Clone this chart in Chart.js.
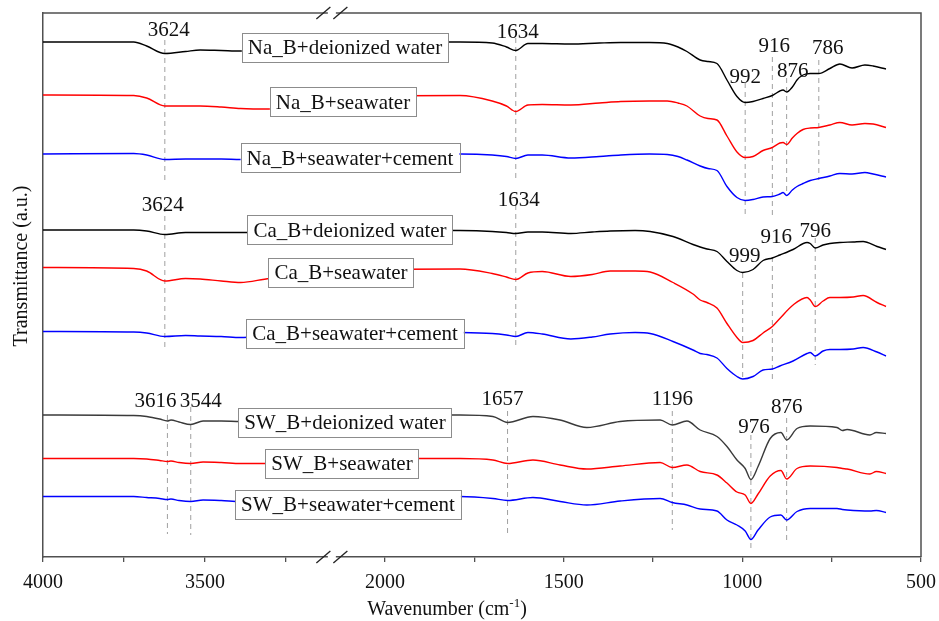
<!DOCTYPE html>
<html>
<head>
<meta charset="utf-8">
<script src="https://cdn.jsdelivr.net/npm/chart.js@4.4.0/dist/chart.umd.min.js"></script>
<style>
  html, body { margin: 0; padding: 0; background: #fff; }
</style>
</head>
<body>
<canvas id="ftirChart" width="939" height="621"></canvas>
<script>
// wavenumber grids (cm-1), one per sample group
const naWavenumbers = [4000, 3720, 3680, 3624, 3560, 3515, 3450, 3390, 3300, 3100, 2100, 1790, 1700, 1660, 1634, 1600, 1560, 1480, 1400, 1340, 1260, 1210, 1180, 1155, 1118, 1096, 1071, 1043, 1015, 992, 970, 942, 916, 895, 886, 876, 860, 847, 830, 810, 786, 755, 727, 693, 657, 634, 598];
const caWavenumbers = [4000, 3720, 3680, 3624, 3560, 3515, 3450, 3390, 3300, 3100, 2100, 1790, 1700, 1660, 1634, 1600, 1560, 1480, 1420, 1370, 1300, 1258, 1194, 1138, 1118, 1099, 1071, 1043, 1015, 999, 970, 942, 916, 895, 858, 819, 810, 796, 774, 755, 727, 690, 662, 623, 598];
const swWavenumbers = [4000, 3720, 3680, 3640, 3616, 3605, 3580, 3544, 3506, 3450, 3390, 3300, 3100, 2100, 1790, 1698, 1657, 1586, 1510, 1435, 1342, 1230, 1196, 1155, 1118, 1071, 1043, 1015, 992, 976, 956, 922, 892, 876, 847, 810, 735, 720, 707, 643, 625, 598];

// transmittance (a.u., stacked offsets)
const naDeionized = [103.0, 103.0, 102.2, 100.7, 101.1, 101.4, 101.3, 101.2, 101.2, 101.0, 103.0, 103.0, 102.8, 102.0, 101.3, 102.7, 102.7, 102.6, 102.8, 102.9, 102.9, 102.7, 102.0, 101.1, 99.4, 99.1, 98.7, 95.4, 92.1, 90.9, 91.1, 91.7, 92.3, 93.2, 93.4, 93.0, 94.0, 95.4, 96.4, 96.7, 96.7, 97.7, 98.6, 97.8, 98.4, 98.2, 97.6];
const naSeawater = [92.4, 92.3, 91.8, 90.2, 90.2, 90.2, 90.0, 89.7, 89.6, 91.0, 92.2, 92.3, 91.2, 90.2, 89.1, 90.4, 90.5, 90.4, 90.8, 91.1, 91.2, 91.2, 90.8, 90.2, 88.2, 87.7, 87.4, 84.2, 81.0, 79.9, 80.1, 81.3, 81.9, 82.8, 82.9, 82.5, 83.8, 84.7, 85.5, 85.8, 85.9, 86.4, 86.9, 86.4, 86.7, 86.6, 85.9];
const naCement = [80.6, 80.7, 80.4, 79.5, 79.6, 79.6, 79.6, 79.5, 79.6, 80.0, 80.5, 80.6, 80.4, 80.1, 79.7, 80.4, 80.4, 79.8, 80.1, 80.4, 80.6, 80.5, 80.1, 79.4, 78.2, 77.7, 77.3, 74.1, 71.9, 71.3, 71.5, 72.0, 72.1, 72.6, 72.9, 72.3, 73.4, 74.1, 74.7, 75.3, 75.7, 76.2, 76.7, 76.6, 76.9, 76.6, 76.0];

const caDeionized = [65.4, 65.4, 65.2, 64.5, 64.9, 64.9, 64.9, 64.9, 65.0, 65.2, 65.4, 65.3, 65.1, 64.9, 64.7, 65.0, 65.0, 64.7, 65.0, 65.2, 65.3, 65.1, 64.1, 62.5, 62.0, 61.6, 61.1, 59.1, 57.3, 56.9, 57.5, 59.3, 59.8, 60.4, 61.5, 62.9, 62.7, 61.8, 62.4, 62.7, 62.9, 63.0, 63.1, 62.1, 61.5];
const caSeawater = [57.9, 57.7, 57.2, 55.2, 55.7, 55.6, 55.2, 54.9, 55.7, 56.5, 57.5, 57.6, 56.7, 56.0, 55.5, 56.8, 57.1, 56.1, 56.5, 57.2, 57.2, 57.0, 54.9, 52.6, 51.4, 50.9, 49.8, 46.7, 43.9, 42.9, 43.3, 44.8, 46.1, 47.7, 50.4, 51.9, 51.4, 50.1, 51.2, 51.9, 51.9, 52.0, 52.3, 50.9, 50.1];
const caCement = [45.1, 45.0, 44.8, 44.1, 44.3, 44.2, 44.1, 43.9, 44.2, 44.6, 45.0, 44.9, 44.7, 44.4, 44.1, 44.9, 44.6, 43.6, 44.0, 44.6, 44.9, 44.7, 43.1, 41.4, 40.7, 40.5, 39.8, 37.7, 36.1, 35.6, 36.1, 37.4, 37.6, 38.2, 39.2, 40.7, 40.9, 40.2, 41.2, 41.5, 41.5, 41.6, 41.9, 41.0, 40.2];

const swDeionized = [28.4, 28.3, 28.1, 27.6, 27.2, 27.4, 27.0, 26.5, 27.2, 27.2, 27.1, 27.5, 28.0, 28.4, 28.4, 28.1, 26.9, 28.1, 27.4, 25.9, 27.1, 27.4, 26.4, 27.2, 25.4, 24.1, 22.1, 19.4, 17.7, 15.5, 18.1, 23.7, 24.9, 23.4, 25.7, 26.2, 25.9, 25.3, 25.5, 24.4, 24.9, 24.7];
const swSeawater = [19.7, 19.7, 19.6, 19.3, 19.1, 19.2, 18.9, 18.7, 19.0, 18.9, 18.7, 18.7, 19.2, 19.7, 19.7, 19.4, 18.7, 19.4, 18.4, 17.6, 18.2, 18.9, 17.9, 18.4, 17.1, 16.4, 14.8, 13.0, 12.4, 10.7, 12.6, 16.2, 17.3, 15.6, 17.7, 18.2, 17.9, 17.7, 17.6, 16.6, 17.1, 16.7];
const swCement = [12.1, 12.1, 11.9, 11.7, 11.5, 11.6, 11.3, 11.1, 11.4, 11.3, 11.1, 11.3, 11.8, 12.1, 12.1, 11.7, 11.3, 11.9, 11.1, 10.4, 11.2, 11.7, 10.9, 10.4, 9.6, 9.2, 7.4, 6.4, 5.2, 3.5, 5.4, 8.0, 8.4, 7.4, 9.1, 9.7, 9.7, 9.5, 9.4, 9.2, 9.3, 8.9];

// marked peaks
const naPeaks = [3624, 1634, 992, 916, 876, 786];
const caPeaks = [3624, 1634, 999, 916, 796];
const swPeaks = [3616, 3544, 1657, 1196, 976, 876];

const seriesNames = [
  "Na_B+deionized water", "Na_B+seawater", "Na_B+seawater+cement",
  "Ca_B+deionized water", "Ca_B+seawater", "Ca_B+seawater+cement",
  "SW_B+deionized water", "SW_B+seawater", "SW_B+seawater+cement",
];

const xTicks = [4000, 3750, 3500, 3250, 2000, 1750, 1500, 1250, 1000, 750, 500];

// ---- layout bits (not data) ----
// broken axis: 4000-3100 on the left, 2100-500 on the right
const LEFT_SEG = { hi: 4000, lo: 3100, f0: 0, f1: 0.3321 };
const RIGHT_SEG = { hi: 2100, lo: 500, f0: 0.3488, f1: 1 };
const BREAK_AT = 0.329;

// dashed marker extents [top, bottom] and label offsets [dx px, y]
const naMarks = { lines: [[103.4, 75.4], [103.8, 75.8], [94.8, 68.4], [100, 67.8], [95.8, 72.8], [99.4, 75.4]],
                  text: [[4, 105.7], [2, 105.3], [0, 96.3], [2, 102.5], [6, 97.4], [9, 102]] };
const caMarks = { lines: [[70, 41.8], [70.4, 42], [56.8, 35.4], [60, 35.4], [63.8, 38.4]],
                  text: [[-2, 70.7], [3, 71.7], [2, 60.4], [4, 64.3], [0, 65.5]] };
const swMarks = { lines: [[28.4, 4.6], [30, 4.4], [29.2, 4.2], [29.2, 5.4], [24.4, 1.2], [27.8, 3.2]],
                  text: [[-12, 31.4], [10, 31.4], [-5, 31.9], [0, 31.9], [3, 26.3], [0, 30.3]] };

// name boxes: [x offset from plot left, y]
const namePos = [[302, 102], [300, 91], [307, 79.9], [307, 65.5], [298, 57], [312, 44.8], [302, 27], [299, 18.8], [305, 10.6]];

const SERIF = "'Liberation Serif', 'Times New Roman', serif";

function valueToFraction(v) {
  if (v >= LEFT_SEG.lo) {
    return LEFT_SEG.f0 + (LEFT_SEG.hi - v) / (LEFT_SEG.hi - LEFT_SEG.lo) * (LEFT_SEG.f1 - LEFT_SEG.f0);
  }
  if (v <= RIGHT_SEG.hi) {
    return RIGHT_SEG.f0 + (RIGHT_SEG.hi - v) / (RIGHT_SEG.hi - RIGHT_SEG.lo) * (RIGHT_SEG.f1 - RIGHT_SEG.f0);
  }
  return LEFT_SEG.f1 + (LEFT_SEG.lo - v) / (LEFT_SEG.lo - RIGHT_SEG.hi) * (RIGHT_SEG.f0 - LEFT_SEG.f1);
}

function fractionToValue(f) {
  if (f <= LEFT_SEG.f1) {
    return LEFT_SEG.hi - (f - LEFT_SEG.f0) / (LEFT_SEG.f1 - LEFT_SEG.f0) * (LEFT_SEG.hi - LEFT_SEG.lo);
  }
  if (f >= RIGHT_SEG.f0) {
    return RIGHT_SEG.hi - (f - RIGHT_SEG.f0) / (RIGHT_SEG.f1 - RIGHT_SEG.f0) * (RIGHT_SEG.hi - RIGHT_SEG.lo);
  }
  return LEFT_SEG.lo - (f - LEFT_SEG.f1) / (RIGHT_SEG.f0 - LEFT_SEG.f1) * (LEFT_SEG.lo - RIGHT_SEG.hi);
}

class BrokenScale extends Chart.LinearScale {
  static id = "broken";
  static defaults = Chart.LinearScale.defaults;

  buildTicks() {
    return xTicks.map((value) => ({ value }));
  }
  getPixelForValue(value) {
    return this.getPixelForDecimal(valueToFraction(value));
  }
  getValueForPixel(pixel) {
    return fractionToValue(this.getDecimalForPixel(pixel));
  }
}
Chart.register(BrokenScale);

function spectrum(label, wns, values, color) {
  return {
    label,
    data: wns.map((x, i) => ({ x, y: values[i] })),
    borderColor: color,
    borderWidth: 1.4,
    pointRadius: 0,
    fill: false,
    tension: 0.4,
    cubicInterpolationMode: "monotone",
  };
}

function markerLines(peaks, marks) {
  return peaks.map((wn, i) => ({
    label: "peak " + wn,
    data: [{ x: wn, y: marks.lines[i][0] }, { x: wn, y: marks.lines[i][1] }],
    borderColor: "#a0a0a0",
    borderWidth: 1,
    borderDash: [5, 4],
    pointRadius: 0,
    tension: 0,
  }));
}

const datasets = [
  spectrum(seriesNames[0], naWavenumbers, naDeionized, "#000000"),
  spectrum(seriesNames[1], naWavenumbers, naSeawater, "#ff0000"),
  spectrum(seriesNames[2], naWavenumbers, naCement, "#0000ff"),
  spectrum(seriesNames[3], caWavenumbers, caDeionized, "#000000"),
  spectrum(seriesNames[4], caWavenumbers, caSeawater, "#ff0000"),
  spectrum(seriesNames[5], caWavenumbers, caCement, "#0000ff"),
  spectrum(seriesNames[6], swWavenumbers, swDeionized, "#3a3a3a"),
  spectrum(seriesNames[7], swWavenumbers, swSeawater, "#ff0000"),
  spectrum(seriesNames[8], swWavenumbers, swCement, "#0000ff"),
  ...markerLines(naPeaks, naMarks),
  ...markerLines(caPeaks, caMarks),
  ...markerLines(swPeaks, swMarks),
];

const annotationPlugin = {
  id: "ftirAnnotations",
  afterDatasetsDraw(chart) {
    const { ctx, chartArea, scales } = chart;
    const x = scales.x;
    const y = scales.y;
    ctx.save();

    // peak numbers
    ctx.font = "21px " + SERIF;
    ctx.fillStyle = "#111";
    ctx.textAlign = "center";
    ctx.textBaseline = "alphabetic";
    [[naPeaks, naMarks], [caPeaks, caMarks], [swPeaks, swMarks]].forEach(([peaks, marks]) => {
      peaks.forEach((wn, i) => {
        const [dx, yv] = marks.text[i];
        ctx.fillText(String(wn), x.getPixelForValue(wn) + dx, y.getPixelForValue(yv) + 7);
      });
    });

    // sample name boxes
    seriesNames.forEach((name, i) => {
      const cx = chartArea.left + namePos[i][0];
      const cy = y.getPixelForValue(namePos[i][1]);
      const w = ctx.measureText(name).width + 12;
      const h = 29;
      ctx.fillStyle = "#fff";
      ctx.fillRect(cx - w / 2, cy - h / 2, w, h);
      ctx.strokeStyle = "#8c8c8c";
      ctx.lineWidth = 1;
      ctx.strokeRect(Math.round(cx - w / 2) + 0.5, Math.round(cy - h / 2) + 0.5, Math.round(w), h);
      ctx.fillStyle = "#111";
      ctx.fillText(name, cx, cy + 7);
    });
    ctx.restore();
  },
  afterDraw(chart) {
    const { ctx, chartArea } = chart;
    const { left, right, top, bottom } = chartArea;
    ctx.save();
    ctx.strokeStyle = "#505050";
    ctx.lineWidth = 1.5;
    ctx.beginPath();
    ctx.moveTo(left, top);
    ctx.lineTo(right, top);
    ctx.lineTo(right, bottom);
    ctx.stroke();

    // axis break marks on top and bottom edges
    const bx = left + BREAK_AT * (right - left);
    [top, bottom].forEach((ey) => {
      ctx.fillStyle = "#fff";
      ctx.fillRect(bx - 4, ey - 2, 8, 4);
      ctx.strokeStyle = "#222";
      ctx.lineWidth = 1.3;
      [-8.5, 8.5].forEach((off) => {
        ctx.beginPath();
        ctx.moveTo(bx + off - 7, ey + 6);
        ctx.lineTo(bx + off + 7, ey - 6);
        ctx.stroke();
      });
    });

    // axis titles
    ctx.fillStyle = "#111";
    ctx.font = "20px " + SERIF;
    ctx.textBaseline = "alphabetic";
    const main = "Wavenumber (cm";
    const sup = "-1";
    const tail = ")";
    const wMain = ctx.measureText(main).width;
    const wTail = ctx.measureText(tail).width;
    ctx.font = "13px " + SERIF;
    const wSup = ctx.measureText(sup).width;
    let tx = 447 - (wMain + wSup + wTail) / 2;
    ctx.textAlign = "left";
    ctx.font = "20px " + SERIF;
    ctx.fillText(main, tx, 615);
    ctx.font = "13px " + SERIF;
    ctx.fillText(sup, tx + wMain, 607);
    ctx.font = "20px " + SERIF;
    ctx.fillText(tail, tx + wMain + wSup, 615);

    ctx.translate(22, 266);
    ctx.rotate(-Math.PI / 2);
    ctx.textAlign = "center";
    ctx.textBaseline = "middle";
    ctx.fillText("Transmittance (a.u.)", 0, 0);
    ctx.restore();
  },
};

new Chart(document.getElementById("ftirChart"), {
  type: "line",
  data: { datasets },
  options: {
    responsive: false,
    animation: false,
    devicePixelRatio: 1,
    layout: { padding: { top: 13, right: 18, left: 0, bottom: 0 } },
    plugins: {
      legend: { display: false },
      tooltip: { enabled: false },
    },
    scales: {
      x: {
        type: "broken",
        min: 500,
        max: 4000,
        afterFit: (scale) => {
          scale.height = 64;
          scale.paddingLeft = 0;
          scale.paddingRight = 0;
        },
        ticks: {
          autoSkip: false,
          maxRotation: 0,
          padding: 9,
          color: "#111",
          font: { family: SERIF, size: 20 },
          callback: (v) => (v % 500 === 0 ? String(v) : ""),
        },
        grid: { drawOnChartArea: false, drawTicks: true, tickLength: 5, color: "#505050", tickColor: "#505050", lineWidth: 1.3 },
        border: { display: true, color: "#505050", width: 1.5 },
      },
      y: {
        type: "linear",
        min: 0,
        max: 108.8,
        afterFit: (scale) => { scale.width = 43; },
        ticks: { display: false },
        grid: { display: false },
        border: { display: true, color: "#505050", width: 1.5 },
      },
    },
  },
  plugins: [annotationPlugin],
});
</script>
</body>
</html>
